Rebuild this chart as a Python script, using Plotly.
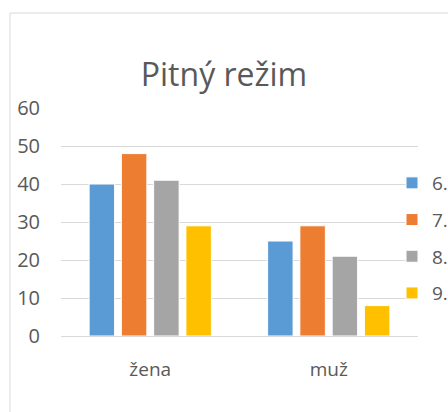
import plotly.graph_objects as go

categories = ["žena", "muž"]
series_names = ["6.", "7.", "8.", "9."]
values_6 = [40, 25]
values_7 = [48, 29]
values_8 = [41, 21]
values_9 = [29, 8]
colors = ["#5B9BD5", "#ED7D31", "#A5A5A5", "#FFC000"]
y_ticks = [0, 10, 20, 30, 40, 50, 60]

W, H = 448, 412
L, R, T, B = 61, 30, 108, 76

fig = go.Figure()
for i, (name, vals) in enumerate(zip(series_names, [values_6, values_7, values_8, values_9])):
    fig.add_trace(go.Bar(
        x=categories, y=vals, name=name,
        marker=dict(color=colors[i], line=dict(color="white", width=1)),
        legendgroup=str(i),
    ))

pw = W - L - R
ph = H - T - B
fig.add_shape(type="rect", xref="paper", yref="paper",
              x0=(10 - L) / pw, x1=(470 - L) / pw,
              y0=-(430 - T - ph) / ph, y1=(H - 13 - B) / ph,
              line=dict(color="#D9D9D9", width=1), layer="below")

fig.update_layout(
    width=W, height=H,
    margin=dict(l=L, r=R, t=T, b=B, autoexpand=False),
    paper_bgcolor="white", plot_bgcolor="white",
    font=dict(family="Open Sans", color="#595959", size=18),
    title=dict(text="Pitný režim", x=0.5, xanchor="center", y=(H - 75) / H, yanchor="middle",
               font=dict(size=32, color="#595959")),
    barmode="group", bargap=0.277, bargroupgap=0.21,
    showlegend=True,
    legend=dict(x=(392 - L) / pw, xanchor="left", y=(H - 164 - B) / ph, yanchor="top",
                tracegroupgap=9, font=dict(size=19, color="#595959"),
                bgcolor="rgba(0,0,0,0)", itemclick=False),
    xaxis=dict(showline=False, ticks="outside", ticklen=16, tickcolor="rgba(0,0,0,0)",
               tickfont=dict(size=19)),
    yaxis=dict(range=[0, 60], tickvals=y_ticks, showgrid=True, gridcolor="#D9D9D9",
               gridwidth=1, zeroline=True, zerolinecolor="#D9D9D9", zerolinewidth=1,
               ticklabelstandoff=20, tickfont=dict(size=20)),
)

fig.write_html("out.html", config={"displayModeBar": False},
               post_script="document.body.style.margin='0px';")
